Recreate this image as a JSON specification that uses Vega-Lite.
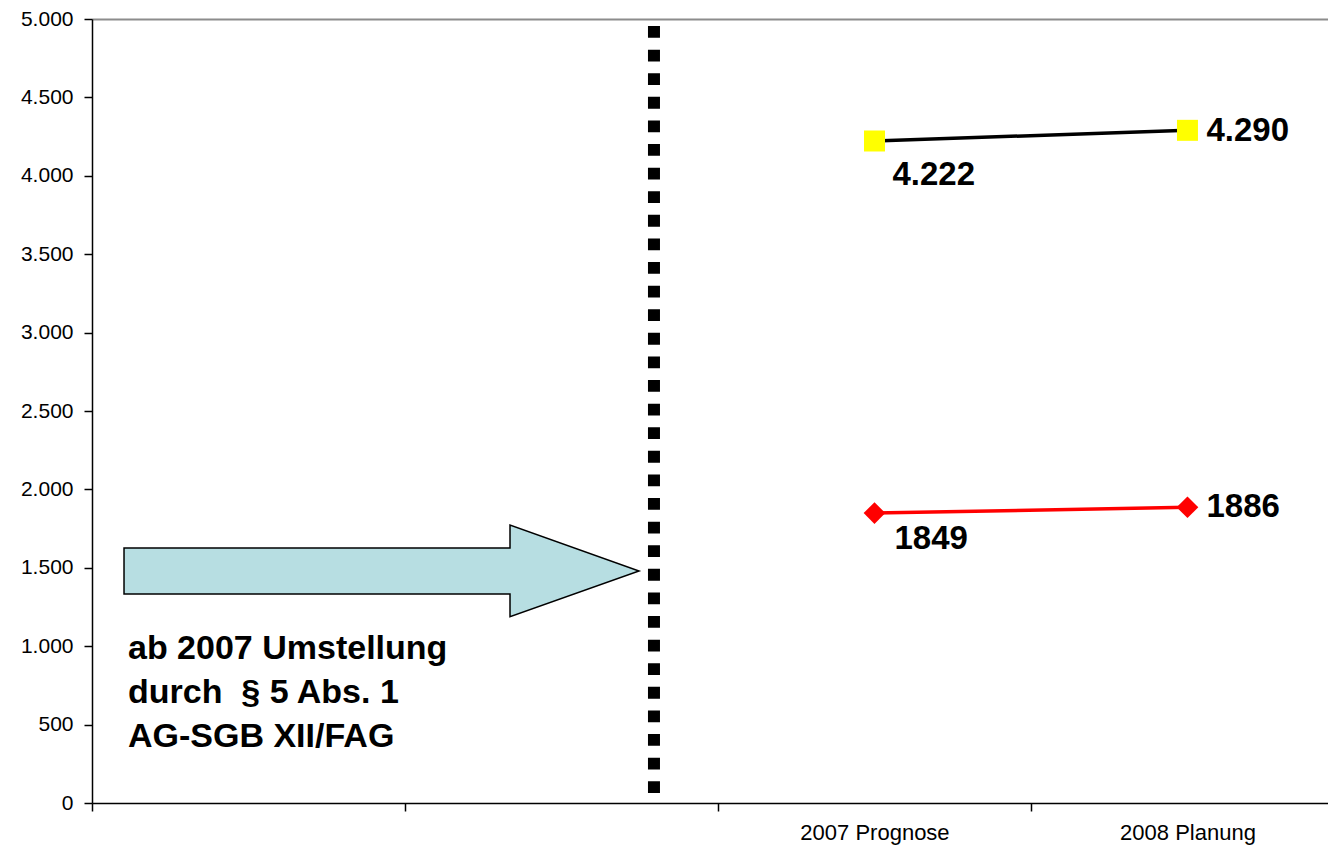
{
  "$schema": "https://vega.github.io/schema/vega-lite/v6.json",
  "width": 1236,
  "height": 784,
  "autosize": "none",
  "padding": {"left": 92, "top": 19, "right": 0, "bottom": 42},
  "background": "white",
  "config": {
    "view": {"stroke": null},
    "font": "Liberation Sans",
    "locale": {"number": {"decimal": ",", "thousands": ".", "grouping": [3], "currency": ["", " €"]}}
  },
  "datasets": {
    "reihen": [
      {"periode": "2007 Prognose", "pos": 2.5, "wert": 4222, "reihe": "gesamt"},
      {"periode": "2008 Planung", "pos": 3.5, "wert": 4290, "reihe": "gesamt"},
      {"periode": "2007 Prognose", "pos": 2.5, "wert": 1849, "reihe": "teil"},
      {"periode": "2008 Planung", "pos": 3.5, "wert": 1886, "reihe": "teil"}
    ],
    "umstellung": [{"pos": 1.7955, "wert": 4955, "bis": 57}],
    "pfeil": [{"pos": 0.925, "wert": 1480}],
    "hinweis": [{"pos": 0.115, "wert": 918, "text": ["ab 2007 Umstellung", "durch \u00a0§ 5 Abs. 1", "AG-SGB XII/FAG"]}]
  },
  "encoding": {
    "x": {
      "field": "pos",
      "type": "quantitative",
      "scale": {"domain": [0, 3.949], "nice": false, "zero": false},
      "axis": {
        "values": [0, 1, 2, 2.5, 3, 3.5],
        "labelExpr": "datum.value == 2.5 ? '2007 Prognose' : datum.value == 3.5 ? '2008 Planung' : ''",
        "title": null,
        "grid": false,
        "domainColor": "black",
        "domainWidth": 1.5,
        "tickColor": "black",
        "tickWidth": 1.5,
        "tickSize": 8,
        "tickOpacity": {"condition": {"test": "datum.value % 1 != 0", "value": 0}, "value": 1},
        "labelFont": "Liberation Sans",
        "labelFontSize": 22,
        "labelColor": "black",
        "labelBaseline": "middle",
        "labelPadding": 21,
        "labelFlush": false,
        "labelOverlap": false,
        "labelBound": false
      }
    },
    "y": {
      "field": "wert",
      "type": "quantitative",
      "scale": {"domain": [0, 5000], "nice": false, "zero": true},
      "axis": {
        "values": [0, 500, 1000, 1500, 2000, 2500, 3000, 3500, 4000, 4500, 5000],
        "format": ",d",
        "title": null,
        "grid": true,
        "gridColor": "#8c8c8c",
        "gridWidth": 2,
        "gridOpacity": {"condition": {"test": "datum.value == 5000", "value": 1}, "value": 0},
        "domainColor": "black",
        "domainWidth": 1.5,
        "tickColor": "black",
        "tickWidth": 1.5,
        "tickSize": 8,
        "labelFont": "Liberation Sans",
        "labelFontSize": 21,
        "labelColor": "black",
        "labelPadding": 11,
        "labelOverlap": false
      }
    }
  },
  "layer": [
    {
      "data": {"name": "umstellung"},
      "mark": {"type": "rule", "color": "black", "strokeWidth": 12, "strokeDash": [11.8, 11.8], "strokeCap": "butt"},
      "encoding": {"y2": {"field": "bis"}}
    },
    {
      "data": {"name": "pfeil"},
      "mark": {
        "type": "point",
        "shape": "M-1,-0.0893L0.499,-0.0893L0.499,-0.178L1,0L0.499,0.178L0.499,0.0893L-1,0.0893Z",
        "size": 265225,
        "filled": true,
        "fill": "#B7DEE2",
        "stroke": "black",
        "strokeWidth": 1.5,
        "opacity": 1
      }
    },
    {
      "data": {"name": "hinweis"},
      "mark": {"type": "text", "align": "left", "baseline": "alphabetic", "fontSize": 34, "fontWeight": "bold", "lineHeight": 44, "color": "black"},
      "encoding": {"text": {"field": "text"}}
    },
    {
      "data": {"name": "reihen"},
      "mark": {"type": "line", "strokeWidth": 3.5},
      "encoding": {
        "color": {"field": "reihe", "type": "nominal", "scale": {"domain": ["gesamt", "teil"], "range": ["black", "#FF0000"]}, "legend": null}
      }
    },
    {
      "data": {"name": "reihen"},
      "transform": [{"filter": "datum.reihe == 'gesamt'"}],
      "mark": {"type": "point", "shape": "square", "size": 441, "filled": true, "color": "#FFFF00", "opacity": 1}
    },
    {
      "data": {"name": "reihen"},
      "transform": [{"filter": "datum.reihe == 'teil'"}],
      "mark": {"type": "point", "shape": "diamond", "size": 470, "filled": true, "color": "#FF0000", "opacity": 1}
    },
    {
      "data": {"name": "reihen"},
      "transform": [{"filter": "datum.reihe == 'gesamt' && datum.periode == '2007 Prognose'"}],
      "mark": {"type": "text", "align": "left", "baseline": "middle", "dx": 18, "dy": 34, "fontSize": 33, "fontWeight": "bold", "color": "black"},
      "encoding": {"text": {"field": "wert", "type": "quantitative", "format": ",d"}}
    },
    {
      "data": {"name": "reihen"},
      "transform": [{"filter": "datum.reihe == 'gesamt' && datum.periode == '2008 Planung'"}],
      "mark": {"type": "text", "align": "left", "baseline": "middle", "dx": 19, "dy": 1, "fontSize": 33, "fontWeight": "bold", "color": "black"},
      "encoding": {"text": {"field": "wert", "type": "quantitative", "format": ",d"}}
    },
    {
      "data": {"name": "reihen"},
      "transform": [{"filter": "datum.reihe == 'teil' && datum.periode == '2007 Prognose'"}],
      "mark": {"type": "text", "align": "left", "baseline": "middle", "dx": 20, "dy": 26, "fontSize": 33, "fontWeight": "bold", "color": "black"},
      "encoding": {"text": {"field": "wert", "type": "quantitative", "format": "d"}}
    },
    {
      "data": {"name": "reihen"},
      "transform": [{"filter": "datum.reihe == 'teil' && datum.periode == '2008 Planung'"}],
      "mark": {"type": "text", "align": "left", "baseline": "middle", "dx": 19, "dy": 0, "fontSize": 33, "fontWeight": "bold", "color": "black"},
      "encoding": {"text": {"field": "wert", "type": "quantitative", "format": "d"}}
    }
  ]
}
